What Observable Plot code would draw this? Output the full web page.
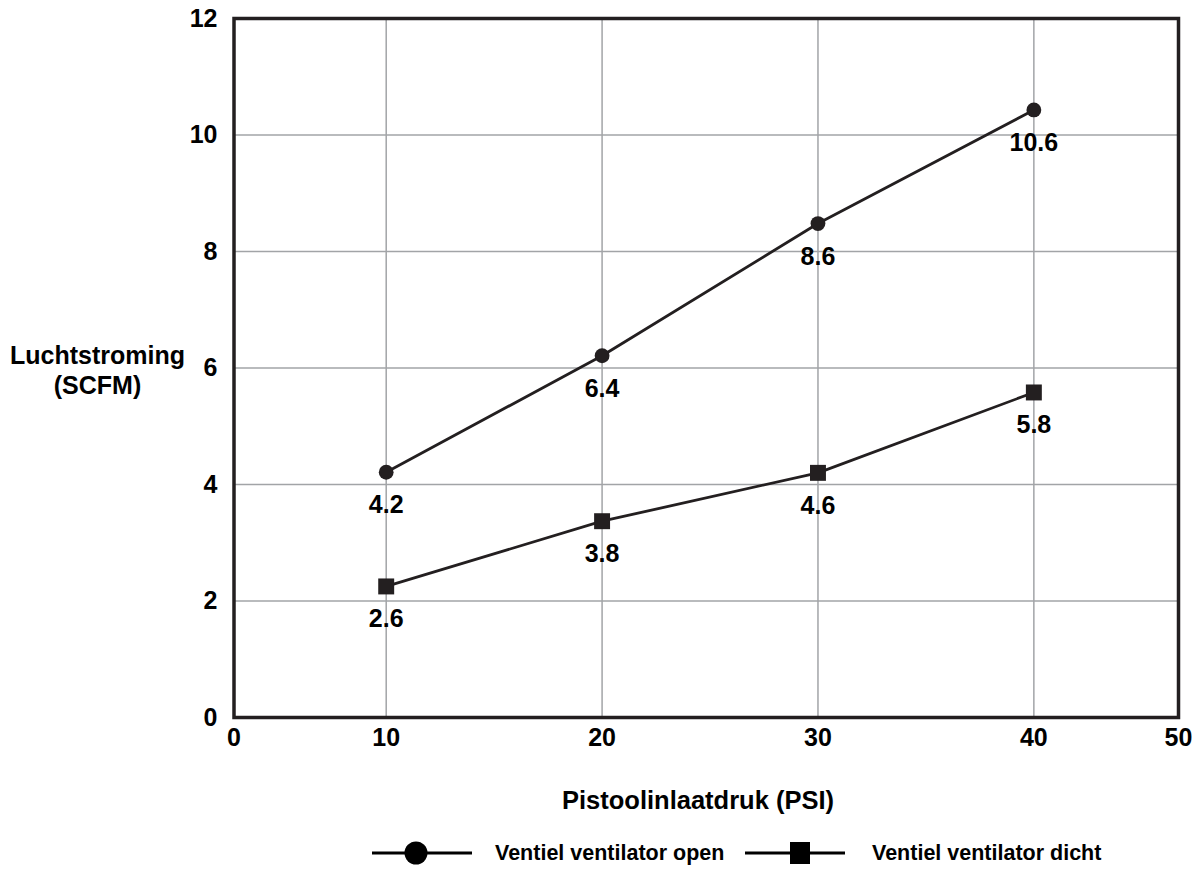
<!DOCTYPE html>
<html>
<head>
<meta charset="utf-8">
<script src="https://cdn.jsdelivr.net/npm/d3@7"></script>
<script src="https://cdn.jsdelivr.net/npm/@observablehq/plot@0.6"></script>
<style>
  html, body { margin: 0; padding: 0; background: #fff; }
  body { width: 1199px; height: 876px; position: relative; overflow: hidden;
         font-family: "Liberation Sans", Arial, Helvetica, sans-serif; font-weight: bold; color: #000; }
  #chart { position: absolute; left: 0; top: 0; }
  .ytitle { position: absolute; left: 0; width: 195px; top: 340px; text-align: center;
            font-size: 25px; line-height: 30px; }
  .xtitle { position: absolute; left: 498px; width: 400px; top: 784px; text-align: center;
            font-size: 25.5px; line-height: 32px; }
  .legend { position: absolute; top: 838px; left: 0; height: 30px; }
  .legend .item { position: absolute; top: 0; display: flex; align-items: center; height: 30px; }
  .legend .label { font-size: 21.5px; margin-left: 23px; white-space: nowrap; }
</style>
</head>
<body>
<div id="chart"></div>
<div class="ytitle" id="ytitle"></div>
<div class="xtitle" id="xtitle"></div>
<div class="legend" id="legend"></div>
<script>
// ---- data ----
const pressure = [10, 20, 30, 40];                 // Pistoolinlaatdruk (PSI)
const openPlotted = [4.21, 6.21, 8.48, 10.43];     // plotted marker heights, valve open
const closedPlotted = [2.25, 3.37, 4.20, 5.58];    // plotted marker heights, valve closed
const openLabels = ["4.2", "6.4", "8.6", "10.6"];
const closedLabels = ["2.6", "3.8", "4.6", "5.8"];
const seriesNames = ["Ventiel ventilator open", "Ventiel ventilator dicht"];
const yTicks = [0, 2, 4, 6, 8, 10, 12];
const yGrid = [2, 4, 6, 8, 10];
const xTickLabels = ["0", "10", "20", "30", "40", "50"];
const xTitle = "Pistoolinlaatdruk (PSI)";
const yTitle = ["Luchtstroming", "(SCFM)"];

// ---- scale setup ----
const xMin = 2.95, xMax = 46.7;
const xTicks = [xMin, ...pressure, xMax];
const xLabelOf = new Map(xTicks.map((t, i) => [t, xTickLabels[i]]));

const ink = "#231f20";
const grid = "#a2a4a7";

const openData = pressure.map((p, i) => ({x: p, y: openPlotted[i], label: openLabels[i]}));
const closedData = pressure.map((p, i) => ({x: p, y: closedPlotted[i], label: closedLabels[i]}));

const chart = Plot.plot({
  width: 1199,
  height: 780,
  marginTop: 18,
  marginBottom: 63,
  marginLeft: 233.5,
  marginRight: 21,
  style: {fontFamily: '"Liberation Sans", Arial, Helvetica, sans-serif', fontWeight: "bold", fontSize: "25px", color: "#000", background: "#fff"},
  x: {domain: [xMin, xMax]},
  y: {domain: [0, 12]},
  marks: [
    Plot.ruleX(pressure, {stroke: grid, strokeWidth: 1.5}),
    Plot.ruleY(yGrid, {stroke: grid, strokeWidth: 1.5}),
    Plot.line(openData, {x: "x", y: "y", stroke: ink, strokeWidth: 2.8}),
    Plot.line(closedData, {x: "x", y: "y", stroke: ink, strokeWidth: 2.8}),
    Plot.dot(openData, {x: "x", y: "y", r: 7.4, fill: ink, stroke: "none", symbol: "circle"}),
    Plot.dot(closedData, {x: "x", y: "y", r: 9.0, fill: ink, stroke: "none", symbol: "square"}),
    Plot.text(openData, {x: "x", y: "y", text: "label", dy: 33, fontSize: 25, fontWeight: "bold", fill: "#000"}),
    Plot.text(closedData, {x: "x", y: "y", text: "label", dy: 33, fontSize: 25, fontWeight: "bold", fill: "#000"}),
    Plot.frame({stroke: ink, strokeWidth: 3.5}),
    Plot.axisX(xTicks, {tickSize: 0, tickPadding: 11, tickFormat: d => xLabelOf.get(d), label: null, fontSize: 25, fontWeight: "bold"}),
    Plot.axisY(yTicks, {tickSize: 0, tickPadding: 16.5, tickFormat: d => String(d), label: null, fontSize: 25, fontWeight: "bold"})
  ]
});
document.getElementById("chart").appendChild(chart);

// ---- axis titles ----
document.getElementById("xtitle").textContent = xTitle;
document.getElementById("ytitle").innerHTML = yTitle.map(s => `<div>${s}</div>`).join("");

// ---- legend ----
const legend = document.getElementById("legend");
function swatch(kind) {
  const w = 100, h = 30;
  const svg = d3.create("svg").attr("width", w).attr("height", h);
  svg.append("line").attr("x1", 0).attr("x2", w).attr("y1", h / 2).attr("y2", h / 2)
    .attr("stroke", "#000").attr("stroke-width", 3);
  if (kind === 0) svg.append("circle").attr("cx", 44).attr("cy", h / 2).attr("r", 11.5).attr("fill", "#000");
  else svg.append("rect").attr("x", 45).attr("y", h / 2 - 11).attr("width", 20).attr("height", 22).attr("fill", "#000");
  return svg.node();
}
const itemLefts = [372, 745];
seriesNames.forEach((name, i) => {
  const item = document.createElement("div");
  item.className = "item";
  item.style.left = itemLefts[i] + "px";
  item.appendChild(swatch(i));
  const lab = document.createElement("span");
  lab.className = "label";
  lab.textContent = name;
  if (i === 1) lab.style.marginLeft = "27px";
  item.appendChild(lab);
  legend.appendChild(item);
});
</script>
</body>
</html>
